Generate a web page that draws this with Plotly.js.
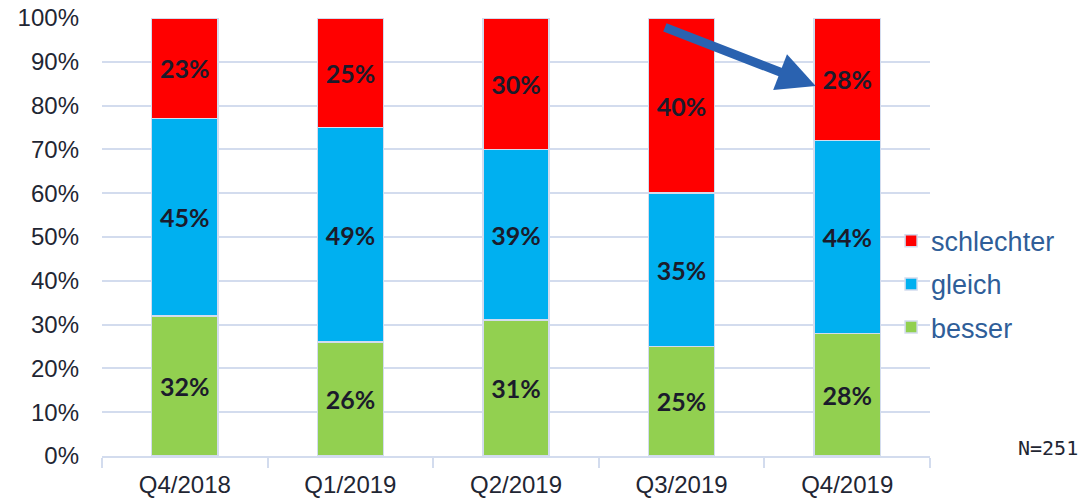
<!DOCTYPE html>
<html><head><meta charset="utf-8">
<script src="https://cdn.plot.ly/plotly-3.0.1.min.js"></script>
<style>html,body{margin:0;padding:0;background:#fff}#chart{width:1082px;height:498px}</style>
</head><body><div id="chart"></div>
<script>
var categories = ["Q4/2018","Q1/2019","Q2/2019","Q3/2019","Q4/2019"];
var besser = [32,26,31,25,28];
var gleich = [45,49,39,35,44];
var schlechter = [23,25,30,40,28];
var seriesNames = ["besser","gleich","schlechter"];
var seriesColors = ["#92d050","#00b0f0","#ff0000"];
var legendRanks = [3,2,1];
var yTickVals = [0,10,20,30,40,50,60,70,80,90,100];
var yTickText = ["0%","10%","20%","30%","40%","50%","60%","70%","80%","90%","100%"];
var arrowFrom = {x: 2.89, y: 98};
var arrowTo = {x: 3.81, y: 84.5};
var noteText = "N=251";

var series = [besser, gleich, schlechter];
var traces = series.map(function(vals, i){
  return {
    type: "bar",
    name: seriesNames[i],
    legendgroup: seriesNames[i],
    legendrank: legendRanks[i],
    x: categories,
    y: vals,
    text: vals.map(function(v){return v + "%";}),
    textposition: "inside",
    insidetextanchor: "middle",
    textangle: 0,
    constraintext: "none",
    textfont: {family: "Lato, 'Open Sans', sans-serif", size: 25, color: "#1b1b2b", weight: "bold"},
    marker: {color: seriesColors[i], line: {color: "#d3dcee", width: 1.5}},
    hoverinfo: "skip"
  };
});

var layout = {
  width: 1082, height: 498,
  margin: {l: 102, r: 152, t: 18, b: 42},
  barmode: "stack",
  bargap: 0.6,
  paper_bgcolor: "#ffffff",
  plot_bgcolor: "#ffffff",
  showlegend: true,
  legend: {
    x: 0.953, xanchor: "left", y: 0.392, yanchor: "middle",
    traceorder: "grouped", tracegroupgap: 5,
    font: {family: "'Liberation Sans', Arial, sans-serif", size: 27, color: "#2f5e99"},
    bgcolor: "rgba(0,0,0,0)"
  },
  xaxis: {
    type: "category",
    showgrid: false,
    showline: true, linecolor: "#d3dcee", linewidth: 2,
    ticks: "outside", tickson: "boundaries", ticklen: 10, tickcolor: "#d3dcee", tickwidth: 2,
    ticklabelstandoff: 6,
    tickfont: {family: "'Liberation Sans', Arial, sans-serif", size: 24, color: "#1f2633"},
    fixedrange: true
  },
  yaxis: {
    range: [0, 100],
    tickvals: yTickVals, ticktext: yTickText,
    showgrid: true, gridcolor: "#d3dcee", gridwidth: 2,
    zeroline: false, showline: false, ticks: "",
    ticklabelstandoff: 22,
    tickfont: {family: "'Liberation Sans', Arial, sans-serif", size: 24, color: "#1f2633"},
    fixedrange: true
  },
  annotations: [
    {
      x: arrowTo.x, y: arrowTo.y, xref: "x", yref: "y",
      ax: arrowFrom.x, ay: arrowFrom.y, axref: "x", ayref: "y",
      showarrow: true, arrowhead: 2, arrowsize: 0.85, arrowwidth: 9, arrowcolor: "#2a62b0",
      text: ""
    },
    {
      x: (1080 - 102) / 828, y: (456 - 448) / 438, xref: "paper", yref: "paper",
      xanchor: "right", yanchor: "middle",
      text: noteText, showarrow: false,
      font: {family: "'DejaVu Sans Mono', monospace", size: 20, color: "#1f2633"}
    }
  ]
};

Plotly.newPlot("chart", traces, layout, {displayModeBar: false, staticPlot: true});
</script></body></html>
